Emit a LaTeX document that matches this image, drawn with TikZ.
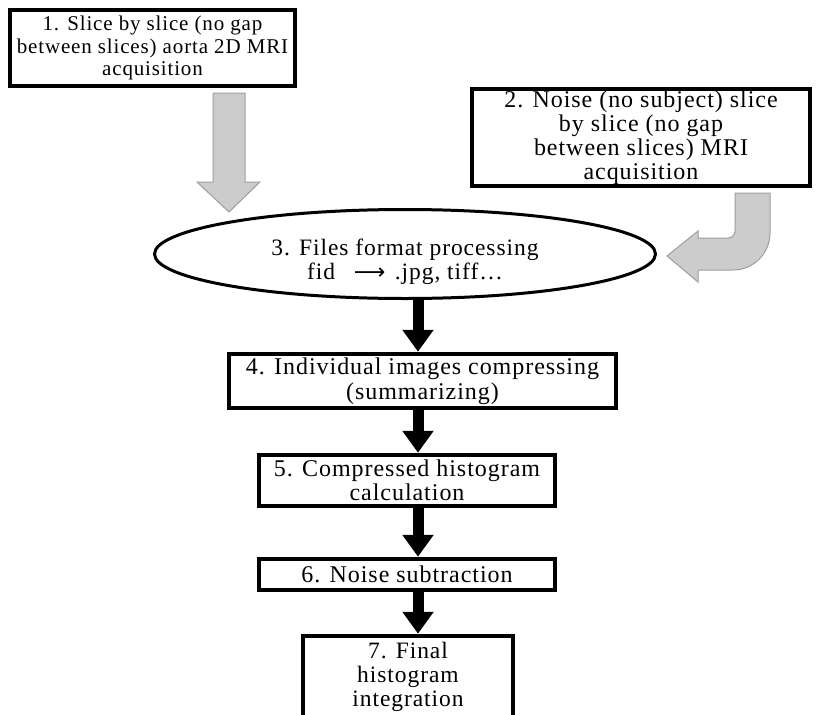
\documentclass[tikz,border=0pt]{standalone}
\usepackage{fontspec}
\setmainfont{Liberation Serif}[LetterSpace=4]
\newfontfamily\arrowfont{DejaVu Sans}
\usetikzlibrary{shapes.geometric,arrows.meta}
\begin{document}
\begin{tikzpicture}[x=1pt,y=-1pt,
  box/.style={draw,line width=4.5pt,align=center,inner sep=0pt,font=\fontsize{24}{24}\selectfont},
  flow/.style={line width=11pt,-{Triangle[length=22pt,width=30pt]}},
  greyarrow/.style={fill=black!20,draw=black!38,line width=1pt}]
\useasboundingbox (0,0) rectangle (817,715);

\node[box,minimum width=285pt,minimum height=76pt,font=\fontsize{21}{22.5}\selectfont] (b1) at (152.5,48)
  {1. Slice by slice (no gap\\between slices) aorta 2D MRI\\acquisition};
\node[box,minimum width=338pt,minimum height=97pt,font=\fontsize{24}{24}\selectfont] (b2) at (641,137.5)
  {2. Noise (no subject) slice\\by slice (no gap\\between slices) MRI\\acquisition};
\node[ellipse,draw,line width=3pt,minimum width=501pt,minimum height=89pt,inner sep=0pt] (e) at (405,254) {};
\node[align=center,inner sep=0pt,font=\fontsize{23.5}{24}\selectfont] (et) at (405,262)
  {3. Files format processing\\fid\hspace{0.8em}{\arrowfont\fontsize{22}{20}\selectfont ⟶}\hspace{0.4em}.jpg, tiff\ldots};
\node[box,minimum width=387pt,minimum height=54pt,font=\fontsize{24}{25}\selectfont] (b4) at (422.5,381)
  {4. Individual images compressing\\(summarizing)};
\node[box,minimum width=296pt,minimum height=51pt] (b5) at (407,480.5)
  {5. Compressed histogram\\calculation};
\node[box,minimum width=296pt,minimum height=31pt] (b6) at (407,574.5)
  {6. Noise subtraction};
\node[box,minimum width=210pt,minimum height=82pt,font=\fontsize{23.5}{24}\selectfont] (b7) at (408,677)
  {7. Final\\histogram\\integration};

\coordinate (ax) at (418,0);
\draw[flow] (e.south -| ax) -- (b4.north -| ax);
\draw[flow] (b4.south -| ax) -- (b5.north -| ax);
\draw[flow] (b5.south -| ax) -- (b6.north -| ax);
\draw[flow] (b6.south -| ax) -- (b7.north -| ax);

% grey block arrow from box 1
\draw[greyarrow] (213,93) -- (245,93) -- (245,182) -- (260,182) -- (229,212)
  -- (197,182) -- (213,182) -- cycle;
% grey bent arrow from box 2
\draw[greyarrow] (735,193) -- (770,193) -- (770,233) arc[start angle=0,end angle=90,radius=37]
  -- (698,270) -- (698,282) -- (667,256) -- (698,231) -- (698,238) -- (728,238)
  arc[start angle=90,end angle=0,radius=7] -- cycle;
\end{tikzpicture}
\end{document}
